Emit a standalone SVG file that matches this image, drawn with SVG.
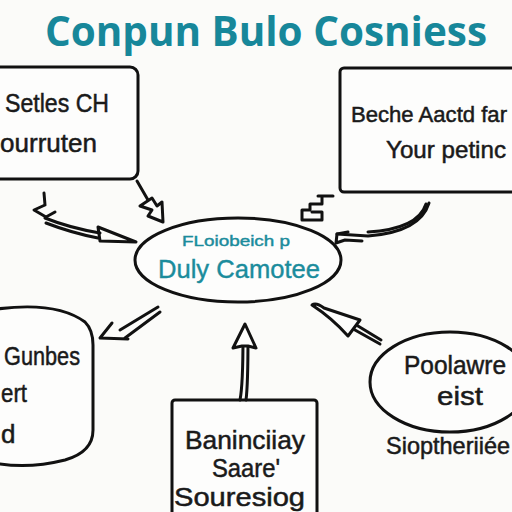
<svg xmlns="http://www.w3.org/2000/svg" width="512" height="512" viewBox="0 0 512 512">
<style>
.bg{fill:#fbfbf9}
.shape{fill:#fdfdfc;stroke:#111;stroke-width:3}
.t{font-family:"Liberation Sans",Arial,sans-serif;fill:#1a1a1a;stroke:#1a1a1a;stroke-width:0.5}
.teal{font-family:"Liberation Sans",Arial,sans-serif;fill:#1b8c9c;stroke:#1b8c9c;stroke-width:0.4}
.title{font-family:"Open Sans","Noto Sans",sans-serif;font-weight:bold;fill:#17879a}
.c{fill:none;stroke:#111;stroke-width:3;stroke-linecap:round;stroke-linejoin:round}
.cf{fill:#fdfdfc;stroke:#111;stroke-width:3;stroke-linejoin:round}
</style>
<rect class="bg" x="0" y="0" width="512" height="512"/>
<text class="title" x="266" y="46" font-size="41" text-anchor="middle" textLength="442" lengthAdjust="spacingAndGlyphs">Conpun Bulo Cosniess</text>

<g id="node-top-left">
<rect class="shape" x="-10" y="67" width="148" height="112" rx="8"/>
<text class="t" x="5" y="112" font-size="26" textLength="104" lengthAdjust="spacingAndGlyphs">Setles CH</text>
<text class="t" x="0" y="152" font-size="26" textLength="97" lengthAdjust="spacingAndGlyphs">ourruten</text>
</g>

<g id="node-top-right">
<rect class="shape" x="340" y="68" width="190" height="124" rx="4"/>
<text class="t" x="351" y="122" font-size="22" textLength="156" lengthAdjust="spacingAndGlyphs">Beche Aactd far</text>
<text class="t" x="386" y="158" font-size="24" textLength="120" lengthAdjust="spacingAndGlyphs">Your petinc</text>
</g>

<g id="node-center">
<ellipse class="shape" cx="238" cy="260" rx="103" ry="42"/>
<text class="teal" x="182" y="246" font-size="14" textLength="108" lengthAdjust="spacingAndGlyphs">FLoiobeich p</text>
<text class="teal" x="158" y="278" font-size="26" textLength="162" lengthAdjust="spacingAndGlyphs">Duly Camotee</text>
</g>

<g id="node-bottom-left">
<path class="shape" d="M -10 310 Q 55 300 85 322 Q 93 330 93 345 L 93 430 Q 93 452 65 460 Q 25 470 -10 462 Z"/>
<text class="t" x="4" y="365" font-size="26" textLength="76" lengthAdjust="spacingAndGlyphs">Gunbes</text>
<text class="t" x="1" y="402" font-size="26" textLength="26" lengthAdjust="spacingAndGlyphs">ert</text>
<text class="t" x="1" y="443" font-size="26">d</text>
</g>

<g id="node-bottom-center">
<rect class="shape" x="172" y="400" width="145" height="130" rx="3"/>
<text class="t" x="185" y="449" font-size="26" textLength="120" lengthAdjust="spacingAndGlyphs">Baninciiay</text>
<text class="t" x="212" y="477" font-size="26" textLength="68" lengthAdjust="spacingAndGlyphs">Saare'</text>
<text class="t" x="174" y="506" font-size="26" textLength="131" lengthAdjust="spacingAndGlyphs">Souresiog</text>
</g>

<g id="node-bottom-right">
<ellipse class="shape" cx="450" cy="382" rx="80" ry="50"/>
<text class="t" x="404" y="374" font-size="25" textLength="102" lengthAdjust="spacingAndGlyphs">Poolawre</text>
<text class="t" x="437" y="405" font-size="26" textLength="46" lengthAdjust="spacingAndGlyphs">eist</text>
<text class="t" x="386" y="454" font-size="24" textLength="124" lengthAdjust="spacingAndGlyphs">Sioptheriiée</text>
</g>

<g id="connectors">
<!-- top-left double arrow -->
<path class="c" d="M 45 218 Q 70 228 100 233"/>
<path class="c" d="M 46 223 Q 72 233 98 238"/>
<path class="c" d="M 44 193 L 45 205 L 34 210 L 46 217 L 55 212"/>
<path class="c" d="M 98 227 L 136 242 L 100 241 Z"/>
<!-- top-left box to center -->
<path class="c" d="M 137 181 L 148 200"/>
<path class="c" d="M 140 206 L 152 198 L 157 206 L 162 202 L 163 222 L 148 216 L 152 210 Z"/>
<!-- top-right stepped shape -->
<path class="c" d="M 318 196 L 333 196 M 322 196 L 322 204 L 310 204 L 310 210 L 302 210 L 302 220 L 322 220 L 322 212 L 312 212"/>
<!-- top-right curved arrow -->
<path class="c" d="M 429 203 Q 420 232 368 236 L 337 234"/>
<path class="c" d="M 426 204 Q 418 229 368 232"/>
<path class="c" d="M 348 232 L 337 234 L 336 243 L 345 240 L 362 241"/>
<!-- center to bottom-left -->
<path class="c" d="M 158 307 L 120 330 M 160 312 L 125 338"/>
<path class="c" d="M 112 323 L 100 338 L 128 339"/>
<!-- bottom-center up arrow -->
<path class="c" d="M 240 400 Q 243 385 243 337 M 246 400 Q 248 385 248 337"/>
<path class="cf" d="M 233 348 L 245 324 L 256 348 L 248 346 L 242 346 Z"/>
<!-- bottom-right to center -->
<path class="cf" d="M 312 305 Q 316 302 324 308 L 360 320 L 348 336 Q 332 318 312 305 Z"/>
<path class="c" d="M 355 330 L 380 344 M 358 326 L 381 340"/>
</g>
</svg>
